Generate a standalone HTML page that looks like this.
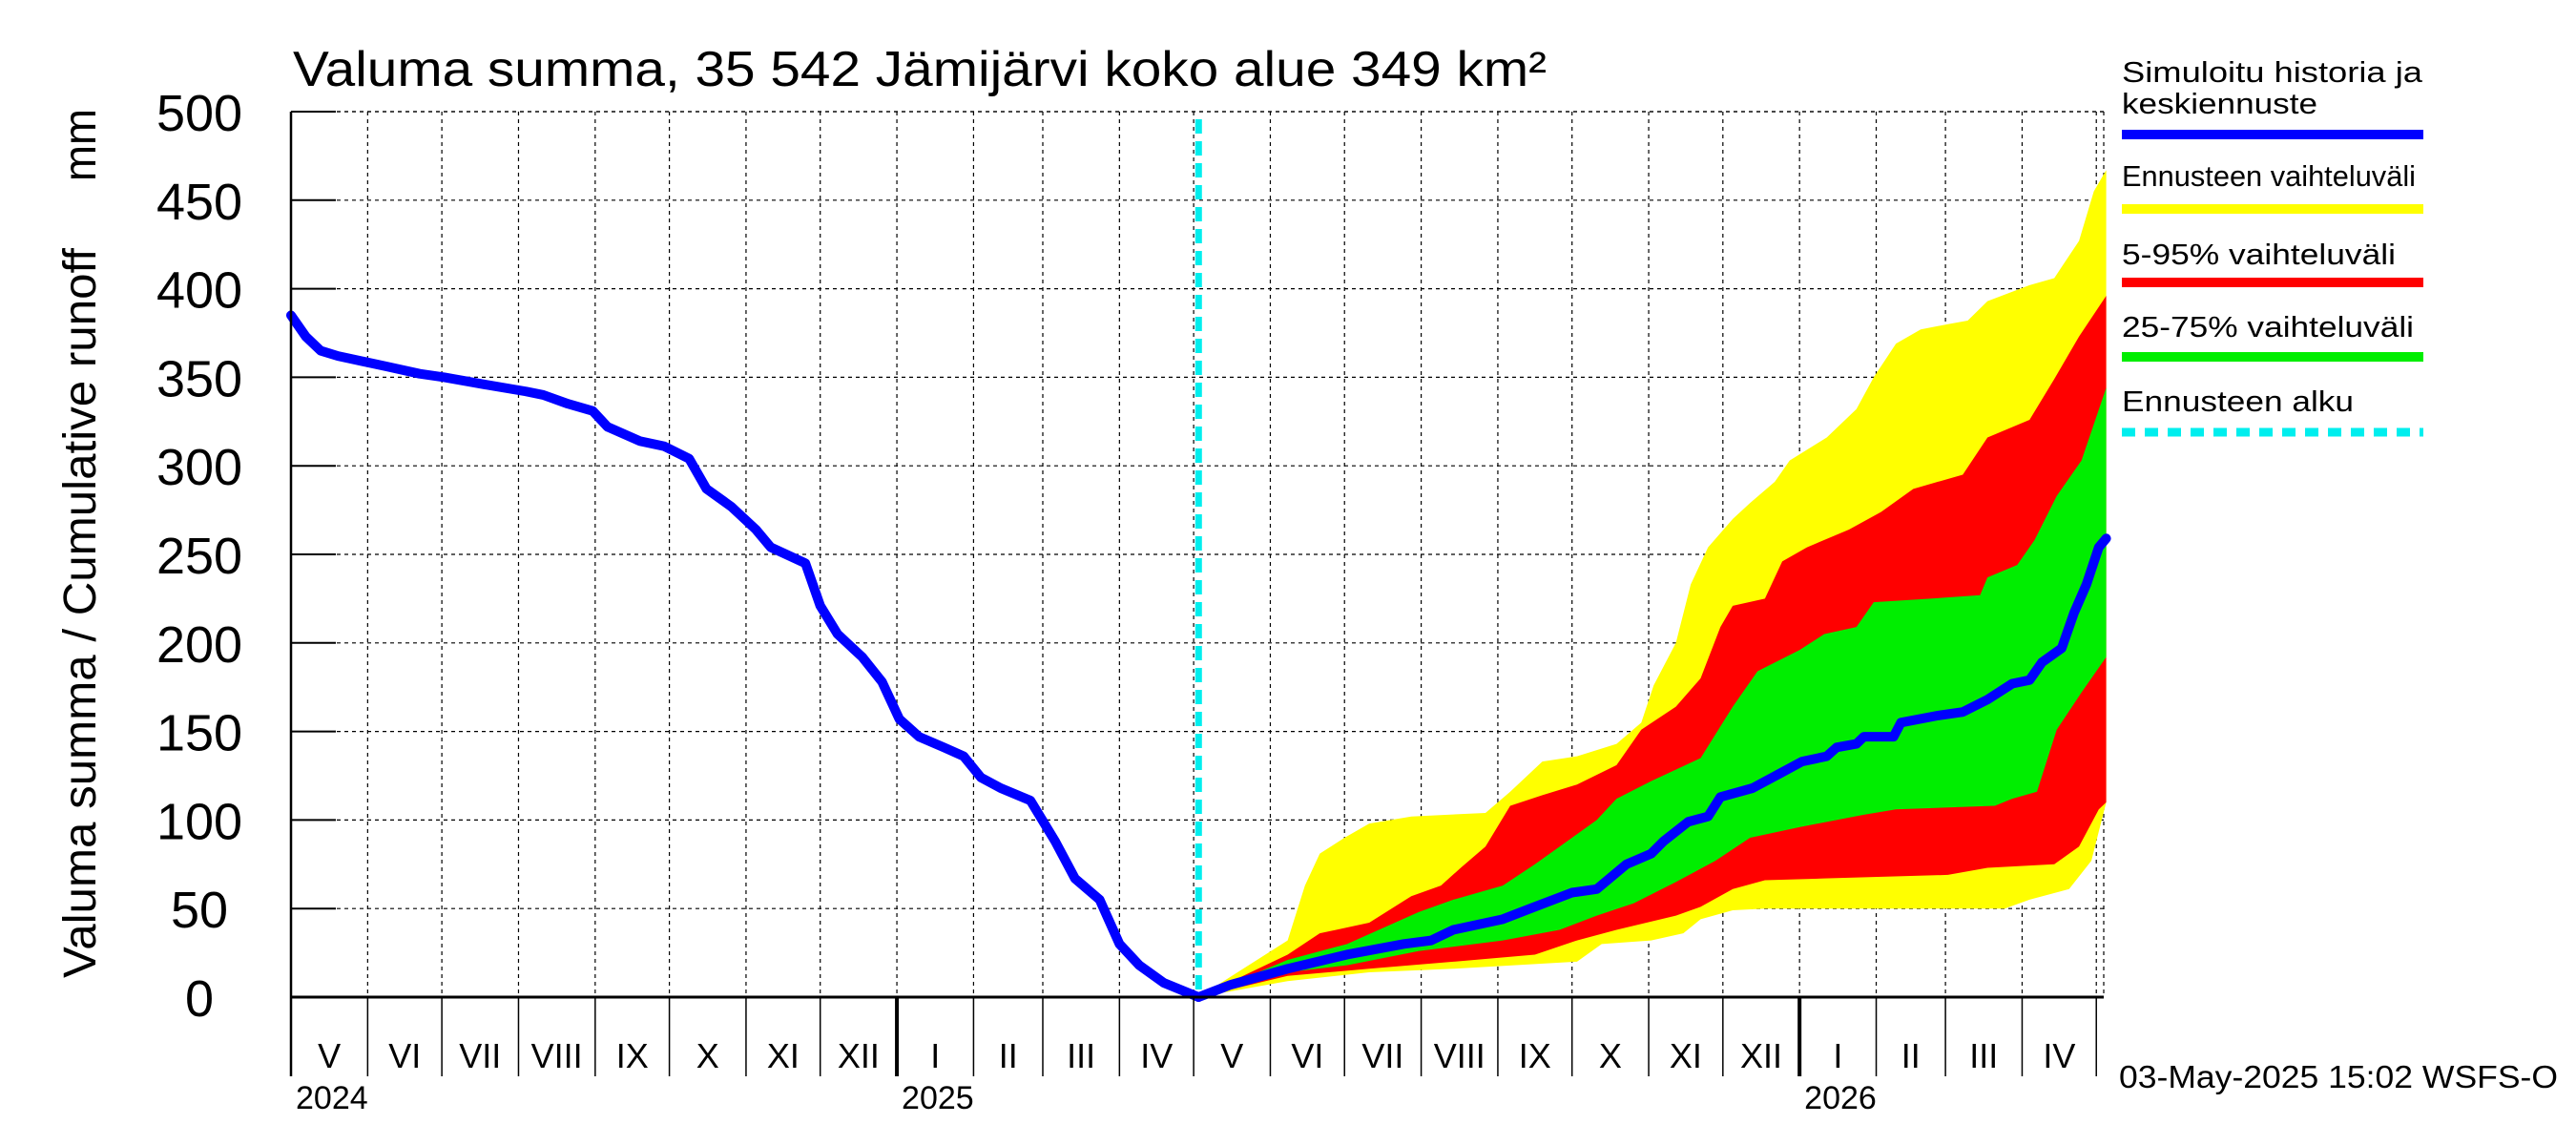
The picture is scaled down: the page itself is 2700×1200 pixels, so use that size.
<!DOCTYPE html>
<html><head><meta charset="utf-8"><title>Valuma summa</title>
<style>html,body{margin:0;padding:0;background:#fff}svg{display:block}text{font-family:"Liberation Sans",sans-serif;fill:#000}</style></head>
<body>
<svg id="chart" width="2700" height="1200" viewBox="0 0 2700 1200" xmlns="http://www.w3.org/2000/svg">
<g id="grid"></g>
<g id="bands"></g>
<g id="lines"></g>
<g id="axes"></g>
<text x="307" y="90" font-size="52" textLength="1314" lengthAdjust="spacingAndGlyphs">Valuma summa, 35 542 Jämijärvi koko alue 349 km²</text>
<text transform="translate(100,1025) rotate(-90)" font-size="48" textLength="765" lengthAdjust="spacingAndGlyphs">Valuma summa / Cumulative runoff</text>
<text transform="translate(100,190) rotate(-90)" font-size="48" textLength="76" lengthAdjust="spacingAndGlyphs">mm</text>
<g>
<text x="2224" y="86" font-size="31" textLength="315" lengthAdjust="spacingAndGlyphs">Simuloitu historia ja</text>
<text x="2224" y="119" font-size="31" textLength="205" lengthAdjust="spacingAndGlyphs">keskiennuste</text>
<rect x="2224" y="136" width="316" height="10" fill="#0000ff"/>
<text x="2224" y="195" font-size="31" textLength="308" lengthAdjust="spacingAndGlyphs">Ennusteen vaihteluväli</text>
<rect x="2224" y="214" width="316" height="10" fill="#ffff00"/>
<text x="2224" y="277" font-size="31" textLength="287" lengthAdjust="spacingAndGlyphs">5-95% vaihteluväli</text>
<rect x="2224" y="291" width="316" height="10" fill="#ff0000"/>
<text x="2224" y="353" font-size="31" textLength="306" lengthAdjust="spacingAndGlyphs">25-75% vaihteluväli</text>
<rect x="2224" y="369" width="316" height="10" fill="#00ee00"/>
<text x="2224" y="431" font-size="31" textLength="243" lengthAdjust="spacingAndGlyphs">Ennusteen alku</text>
<line x1="2224" y1="453" x2="2540" y2="453" stroke="#00eeee" stroke-width="9" stroke-dasharray="14,10"/>
</g>
<text x="2221" y="1140" font-size="33" textLength="460" lengthAdjust="spacingAndGlyphs">03-May-2025 15:02 WSFS-O</text>
</svg>
<script>
// Data (days since 2024-05-01, values in mm)
const histDays = [0,6,12,19,39,52,62,78,95,102,112,122,128,141,151,161,168,178,188,194,208,214,221,231,239,246,254,264,272,279,287,299,309,317,327,335,343,353,367];
const histVals = [385,373,365,362,356,352,350,346,342,340,335,331,322,314,311,304,287,277,264,254,245,221,205,192,178,157,147,141,136,124,118,111,88,67,55,30,18,8,0];
const medDays = [367,380,403,427,450,461,470,490,503,518,528,540,550,555,565,573,578,591,603,611,621,625,633,636,648,651,666,676,686,696,703,708,716,721,726,731,734];
const medVals = [0,7,16,24,30,32,38,44,51,59,61,75,81,88,99,102,113,118,127,133,136,141,143,147,147,155,159,161,168,177,179,189,197,217,233,254,259];
const maxDays = [367,403,410,416,426,436,453,483,493,506,520,536,546,551,560,566,573,583,590,600,606,621,633,640,649,659,670,678,686,703,713,723,729,734];
const maxVals = [0,32,63,81,90,98,102,104,116,133,136,143,155,176,200,233,254,270,279,291,303,316,332,350,369,377,380,382,393,402,406,427,455,467];
const minDays = [367,403,436,470,520,530,550,563,570,583,596,670,693,703,719,728,734];
const minVals = [0,9,14,16,20,30,32,36,44,49,50,50,50,55,61,77,110];
const p95Days = [367,403,416,436,453,465,473,483,493,506,520,536,546,560,570,578,583,596,603,613,630,643,656,676,686,703,713,723,734];
const p95Vals = [0,24,36,42,57,63,73,85,108,114,120,131,151,164,180,209,221,225,246,254,264,274,287,295,316,326,349,373,396];
const p05Days = [367,403,436,470,503,520,536,560,570,583,596,620,670,686,713,723,731,734];
const p05Vals = [0,12,16,20,24,32,38,46,51,61,66,67,69,73,75,85,106,110];
const p75Days = [367,403,427,456,470,490,503,513,528,536,550,570,583,593,610,620,633,640,663,683,686,698,705,714,724,734];
const p75Vals = [0,21,30,48,55,63,75,85,100,112,122,135,164,184,196,205,209,223,225,227,237,244,258,283,303,344];
const p25Days = [367,403,427,456,490,513,528,543,560,576,590,610,636,649,689,696,706,714,724,734];
const p25Vals = [0,14,18,26,32,38,46,53,65,77,90,96,103,106,108,112,116,151,172,192];
const yTicks = [0,50,100,150,200,250,300,350,400,450,500];
const monthNames = ["I","II","III","IV","V","VI","VII","VIII","IX","X","XI","XII"];
const forecastStartDay = 367;
const totalDays = 733;

const X0=305, X1=2205, Y0=1045, Y1=117;
const sx = d => X0 + d*(X1-X0)/totalDays;
const sy = v => Y0 - v*(Y0-Y1)/500;
const NS="http://www.w3.org/2000/svg";
function mk(tag, parent, attrs){const e=document.createElementNS(NS,tag);for(const k in attrs)e.setAttribute(k,attrs[k]);parent.appendChild(e);return e;}
const grid=document.getElementById('grid'), bands=document.getElementById('bands'), lines=document.getElementById('lines'), axes=document.getElementById('axes');

const start=new Date(Date.UTC(2024,4,1));
const bounds=[];
for(let i=0;i<=24;i++){const d=new Date(Date.UTC(2024,4+i,1));bounds.push({day:Math.round((d-start)/86400000),m:d.getUTCMonth(),y:d.getUTCFullYear()});}

yTicks.forEach(v=>{
  const y=sy(v);
  if(v>0){const g=mk('line',grid,{x1:X0,x2:X1,y1:y,y2:y,stroke:'#000','stroke-width':1.2,'stroke-dasharray':'4,4'});
  
  }
  const t=mk('line',axes,{x1:X0,x2:X0+47,y1:y,y2:y,stroke:'#000','stroke-width':2});
  
  
  const l=mk('text',axes,{x:209,y:y+20,'font-size':54,'text-anchor':'middle'});
  l.textContent=v;
  
  
});
bounds.forEach((b,i)=>{
  const x=sx(b.day);
  if(i>0){const g=mk('line',grid,{x1:x,x2:x,y1:Y1,y2:Y0,stroke:'#000','stroke-width':1.2,'stroke-dasharray':'4,4'});
  
  }
  const t=mk('line',axes,{x1:x,x2:x,y1:Y0,y2:1128,stroke:'#000','stroke-width':b.m===0?4:1.5});
  
  
  if(i<24){
    const xn=sx(bounds[i+1].day);
    const l=mk('text',axes,{x:(x+xn)/2,y:1119,'font-size':36,'text-anchor':'middle'});
    l.textContent=monthNames[b.m];
    
    
  }
  if(i===0||b.m===0){
    const l=mk('text',axes,{x:x+5,y:1162,'font-size':34});
    l.textContent=b.y;
    
    
  }
});
const re=mk('line',grid,{x1:X1,x2:X1,y1:Y1,y2:Y0,stroke:'#000','stroke-width':1.2,'stroke-dasharray':'4,4'});


const te=mk('line',grid,{x1:X0,x2:X1,y1:Y1,y2:Y1,stroke:'#000','stroke-width':1.2,'stroke-dasharray':'4,4'});



function band(ud,uv,ld,lv,color,name){
  const pts=ud.map((d,i)=>sx(d)+','+sy(uv[i]));
  for(let i=ld.length-1;i>=0;i--)pts.push(sx(ld[i])+','+sy(lv[i]));
  const p=mk('polygon',bands,{points:pts.join(' '),fill:color});
  
  
}
band(maxDays,maxVals,minDays,minVals,'#ffff00','band-min-max');
band(p95Days,p95Vals,p05Days,p05Vals,'#ff0000','band-5-95');
band(p75Days,p75Vals,p25Days,p25Vals,'#00ee00','band-25-75');

function line(days,vals,name){
  const p=mk('polyline',lines,{points:days.map((d,i)=>sx(d)+','+sy(vals[i])).join(' '),fill:'none',stroke:'#0000ff','stroke-width':10,'stroke-linejoin':'round','stroke-linecap':'round'});
  
  
}
line(histDays,histVals,'history-line');
line(medDays,medVals,'median-forecast-line');

const fx=sx(forecastStartDay);
const fl=mk('line',lines,{x1:fx,x2:fx,y1:Y1+8,y2:Y0,stroke:'#00eeee','stroke-width':7,'stroke-dasharray':'15,8'});



const ax=mk('line',axes,{x1:X0,x2:X0,y1:Y1,y2:1128,stroke:'#000','stroke-width':2.5});


const bx=mk('line',axes,{x1:X0,x2:X1,y1:Y0,y2:Y0,stroke:'#000','stroke-width':3});


</script>
</body></html>
